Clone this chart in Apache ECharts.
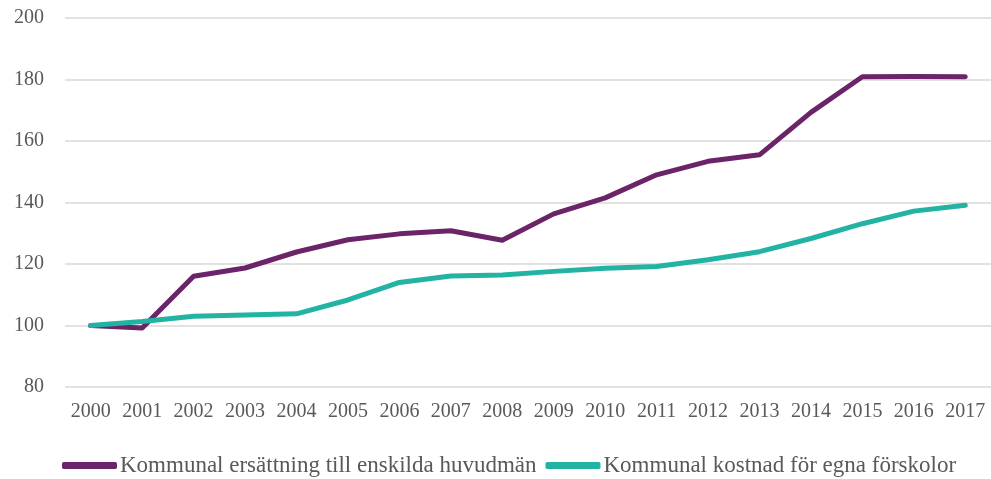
<!DOCTYPE html>
<html>
<head>
  <meta charset="utf-8">
  <title>Kommunal ersättning</title>
  <script src="https://cdn.jsdelivr.net/npm/echarts@6/dist/echarts.min.js"></script>
  <style>
    html, body { margin: 0; padding: 0; background: #fff; }
  </style>
</head>
<body>
  <div id="main" style="width: 991px; height: 479px;"></div>

  <script>
    const years = ['2000', '2001', '2002', '2003', '2004', '2005', '2006', '2007', '2008',
      '2009', '2010', '2011', '2012', '2013', '2014', '2015', '2016', '2017'];
    const ersattning = [100, 99.2, 116, 118.7, 123.9, 127.9, 129.8, 130.8, 127.7,
      136.3, 141.5, 149, 153.4, 155.5, 169.3, 180.9, 181, 180.9];
    const kostnad = [100, 101.3, 103, 103.4, 103.8, 108.3, 114, 116.1, 116.4,
      117.6, 118.6, 119.2, 121.4, 124, 128.3, 133.1, 137.2, 139.1];
    const names = ['Kommunal ersättning till enskilda huvudmän', 'Kommunal kostnad för egna förskolor'];

    const font = 'Liberation Serif';
    const chart = echarts.init(document.getElementById('main'));
    const option = {
      animation: false,
      color: ['#6B2468', '#22B3A3'],
      grid: { left: 65, top: 18, width: 928, height: 369 },
      legend: {
        left: 57,
        top: 449,
        icon: 'roundRect',
        itemWidth: 55,
        itemHeight: 7,
        itemGap: 9,
        textStyle: { fontFamily: font, fontSize: 23, color: '#595959', padding: [0, 0, 0, -2] },
        data: names
      },
      xAxis: {
        type: 'category',
        data: years,
        axisLine: { show: false },
        axisTick: { show: false },
        axisLabel: { fontFamily: font, fontSize: 20, color: '#595959', margin: 15, interval: 0 }
      },
      yAxis: {
        type: 'value',
        min: 80,
        max: 200,
        interval: 20,
        axisLabel: { fontFamily: font, fontSize: 20, color: '#595959', margin: 21 },
        splitLine: { lineStyle: { color: '#d9d9d9', width: 1.5 } }
      },
      series: [
        {
          name: names[0],
          type: 'line',
          data: ersattning,
          symbol: 'none',
          lineStyle: { width: 5, cap: 'round', join: 'round' }
        },
        {
          name: names[1],
          type: 'line',
          data: kostnad,
          symbol: 'none',
          lineStyle: { width: 5, cap: 'round', join: 'round' }
        }
      ]
    };
    chart.setOption(option);
  </script>
</body>
</html>
